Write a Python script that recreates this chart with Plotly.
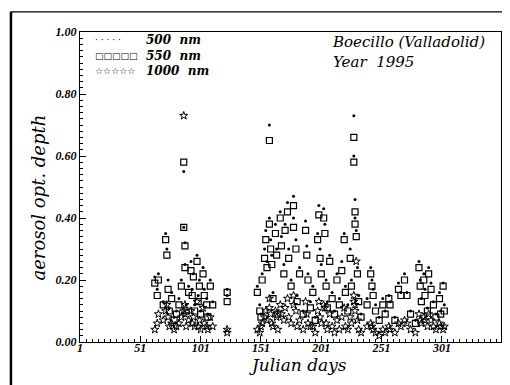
import plotly.graph_objects as go

# Julian day of each observation and the aerosol optical depth at three wavelengths
days = [63, 65, 66, 70, 72, 73, 74, 75, 77, 79, 81, 83, 85, 87, 87, 88, 88, 89, 91, 93,
        94, 95, 96, 98, 99, 100, 101, 103, 104, 106, 107, 109, 111, 123, 123,
        148, 150, 151, 152, 154, 155, 156, 158, 158, 159, 160, 161, 163, 164, 165, 167, 168,
        170, 171, 173, 174, 176, 178, 178, 180, 181, 183, 186, 188, 189, 190, 192, 194, 196,
        198, 199, 200, 201, 203, 204, 205, 206, 208, 210, 212, 214, 216, 218, 220, 221, 223,
        225, 226, 228, 228, 229, 229, 230, 231, 232, 234, 239,
        242, 243, 244, 246, 249, 252, 254, 257, 258, 262, 265, 267, 270, 272, 275, 279, 282,
        283, 284, 286, 287, 289, 290, 292, 294, 296, 299, 300, 302, 303]

aod500 = [0.21, 0.17, 0.22, 0.13, 0.35, 0.30, 0.20, 0.11, 0.16, 0.08, 0.10, 0.14, 0.20, 0.55, 0.37, 0.32, 0.25, 0.12, 0.18, 0.26,
          0.17, 0.22, 0.12, 0.28, 0.15, 0.20, 0.10, 0.24, 0.17, 0.14, 0.09, 0.20, 0.13, 0.17, 0.15,
          0.18, 0.12, 0.09, 0.22, 0.30, 0.36, 0.26, 0.70, 0.40, 0.33, 0.28, 0.16, 0.38, 0.30, 0.10, 0.42, 0.34,
          0.25, 0.38, 0.45, 0.30, 0.20, 0.47, 0.40, 0.33, 0.15, 0.24, 0.10, 0.39, 0.31, 0.22, 0.13, 0.18, 0.08,
          0.35, 0.44, 0.30, 0.25, 0.43, 0.38, 0.20, 0.13, 0.28, 0.16, 0.10, 0.22, 0.14, 0.26, 0.35, 0.18, 0.12,
          0.30, 0.20, 0.73, 0.60, 0.46, 0.40, 0.36, 0.24, 0.15, 0.09, 0.14,
          0.24, 0.20, 0.17, 0.12, 0.08, 0.14, 0.10, 0.15, 0.13, 0.08, 0.19, 0.16, 0.22, 0.16, 0.10, 0.07, 0.26,
          0.20, 0.14, 0.22, 0.17, 0.11, 0.24, 0.19, 0.13, 0.09, 0.16, 0.10, 0.19, 0.12]

aod550 = [0.19, 0.15, 0.20, 0.12, 0.33, 0.28, 0.17, 0.10, 0.14, 0.07, 0.09, 0.12, 0.18, 0.58, 0.37, 0.31, 0.24, 0.10, 0.16, 0.23,
          0.15, 0.21, 0.10, 0.26, 0.13, 0.18, 0.09, 0.22, 0.15, 0.12, 0.08, 0.18, 0.12, 0.16, 0.13,
          0.16, 0.10, 0.08, 0.20, 0.27, 0.33, 0.24, 0.65, 0.38, 0.30, 0.25, 0.14, 0.35, 0.28, 0.09, 0.40, 0.31,
          0.22, 0.36, 0.42, 0.27, 0.18, 0.44, 0.37, 0.30, 0.13, 0.22, 0.09, 0.36, 0.28, 0.20, 0.11, 0.16, 0.07,
          0.33, 0.41, 0.27, 0.22, 0.40, 0.35, 0.18, 0.11, 0.26, 0.14, 0.09, 0.20, 0.12, 0.23, 0.33, 0.16, 0.10,
          0.27, 0.18, 0.66, 0.58, 0.42, 0.38, 0.34, 0.22, 0.13, 0.08, 0.12,
          0.22, 0.18, 0.15, 0.10, 0.07, 0.12, 0.09, 0.14, 0.12, 0.07, 0.17, 0.15, 0.20, 0.15, 0.09, 0.06, 0.24,
          0.18, 0.13, 0.20, 0.15, 0.10, 0.22, 0.17, 0.12, 0.08, 0.14, 0.09, 0.18, 0.10]

aod1000 = [0.04, 0.06, 0.09, 0.07, 0.10, 0.12, 0.08, 0.05, 0.06, 0.04, 0.05, 0.06, 0.08, 0.73, 0.10, 0.12, 0.09, 0.05, 0.07, 0.10,
           0.06, 0.08, 0.05, 0.13, 0.05, 0.07, 0.04, 0.11, 0.06, 0.05, 0.04, 0.08, 0.05, 0.03, 0.04,
           0.04, 0.03, 0.05, 0.06, 0.08, 0.10, 0.07, 0.14, 0.11, 0.09, 0.06, 0.05, 0.10, 0.08, 0.04, 0.12, 0.09,
           0.07, 0.11, 0.14, 0.08, 0.06, 0.15, 0.12, 0.10, 0.05, 0.07, 0.04, 0.13, 0.09, 0.06, 0.05, 0.05, 0.03,
           0.10, 0.13, 0.08, 0.06, 0.12, 0.11, 0.06, 0.04, 0.09, 0.05, 0.03, 0.07, 0.04, 0.08, 0.11, 0.05, 0.04,
           0.08, 0.06, 0.15, 0.13, 0.12, 0.10, 0.26, 0.07, 0.04, 0.03, 0.05,
           0.06, 0.05, 0.04, 0.03, 0.02, 0.04, 0.03, 0.05, 0.04, 0.03, 0.06, 0.05, 0.07, 0.06, 0.04, 0.03, 0.09,
           0.07, 0.06, 0.08, 0.07, 0.05, 0.09, 0.07, 0.05, 0.04, 0.06, 0.05, 0.04, 0.05]

x_ticks = [1, 51, 101, 151, 201, 251, 301]
y_ticks = [0.0, 0.2, 0.4, 0.6, 0.8, 1.0]

SERIF = "Liberation Serif, DejaVu Serif, serif"
WIDE_SERIF = "DejaVu Serif, serif"

fig = go.Figure()
fig.add_trace(go.Scatter(x=days, y=aod550, mode="markers", name="550 nm",
                         marker=dict(symbol="square-open", size=6, color="black", line=dict(width=1.2))))
fig.add_trace(go.Scatter(x=days, y=aod1000, mode="markers", name="1000 nm",
                         marker=dict(symbol="star-open", size=6, color="black", line=dict(width=1))))
fig.add_trace(go.Scatter(x=days, y=aod500, mode="markers", name="500 nm",
                         marker=dict(symbol="circle", size=3, color="black")))

axis_common = dict(showline=True, linecolor="black", linewidth=1.2, mirror=True,
                   ticks="inside", ticklen=6, tickcolor="black", showgrid=False, zeroline=False,
                   tickfont=dict(family=SERIF, size=12, color="black", style="italic", weight="bold"))

fig.update_xaxes(range=[1, 350], tickvals=x_ticks, ticktext=[str(v) for v in x_ticks],
                 ticklabelstandoff=-6,
                 minor=dict(dtick=5, tick0=1, ticks="inside", ticklen=3, tickcolor="black"),
                 **axis_common)
fig.update_yaxes(range=[0, 1.0], tickvals=y_ticks, ticktext=[f"{v:.2f}" for v in y_ticks],
                 minor=dict(dtick=0.02, ticks="inside", ticklen=3, tickcolor="black"),
                 **axis_common)

# axis titles placed as in the original
fig.add_annotation(text="Julian days", xref="paper", yref="paper", x=0.518, y=-0.074,
                   xanchor="center", yanchor="middle", showarrow=False,
                   font=dict(family=WIDE_SERIF, size=17, color="black", style="italic"))
fig.add_annotation(text="aerosol opt. depth", xref="paper", yref="paper", x=-0.098, y=0.465,
                   xanchor="center", yanchor="middle", textangle=-90, showarrow=False,
                   font=dict(family=WIDE_SERIF, size=18, color="black", style="italic"))

# legend as text, like the original plot: symbol rows and labels
sym_font = dict(family="DejaVu Sans, sans-serif", size=9, color="black")
legend_symbols = ["\u00b7 \u00b7 \u00b7 \u00b7 \u00b7", "\u25a1\u25a1\u25a1\u25a1\u25a1", "\u2606\u2606\u2606\u2606\u2606"]
legend_labels = ["500  nm", "550  nm", "1000  nm"]
legend_y = [0.974, 0.924, 0.874]
for sym, yy in zip(legend_symbols, legend_y):
    fig.add_annotation(text=sym, xref="paper", yref="paper", x=0.031, y=yy,
                       xanchor="left", yanchor="middle", showarrow=False, font=sym_font)
fig.add_annotation(text="<br>".join(legend_labels), xref="paper", yref="paper", x=0.152, y=legend_y[1],
                   xanchor="left", yanchor="middle", align="left", showarrow=False,
                   font=dict(family=WIDE_SERIF, size=12, color="black", style="italic", weight="bold"))

title_font = dict(family=WIDE_SERIF, size=15, color="black", style="italic")
fig.add_annotation(text="Boecillo (Valladolid)<br>Year  1995", xref="paper", yref="paper",
                   x=0.595, y=0.935, xanchor="left", yanchor="middle", align="left",
                   showarrow=False, font=title_font)

# scan frame around the figure
fig.add_shape(type="line", xref="paper", yref="paper", x0=-0.164, x1=-0.164, y0=-0.155, y1=1.065,
              line=dict(color="black", width=2.5))
fig.add_shape(type="line", xref="paper", yref="paper", x0=-0.164, x1=1.04, y0=1.065, y1=1.065,
              line=dict(color="black", width=1.3))
fig.add_shape(type="line", xref="paper", yref="paper", x0=-0.164, x1=1.04, y0=-0.155, y1=-0.155,
              line=dict(color="black", width=1, dash="dash"))

fig.update_layout(width=510, height=385, margin=dict(l=72, r=17, t=24, b=51),
                  paper_bgcolor="white", plot_bgcolor="white", showlegend=False)

fig.write_html("out.html")
